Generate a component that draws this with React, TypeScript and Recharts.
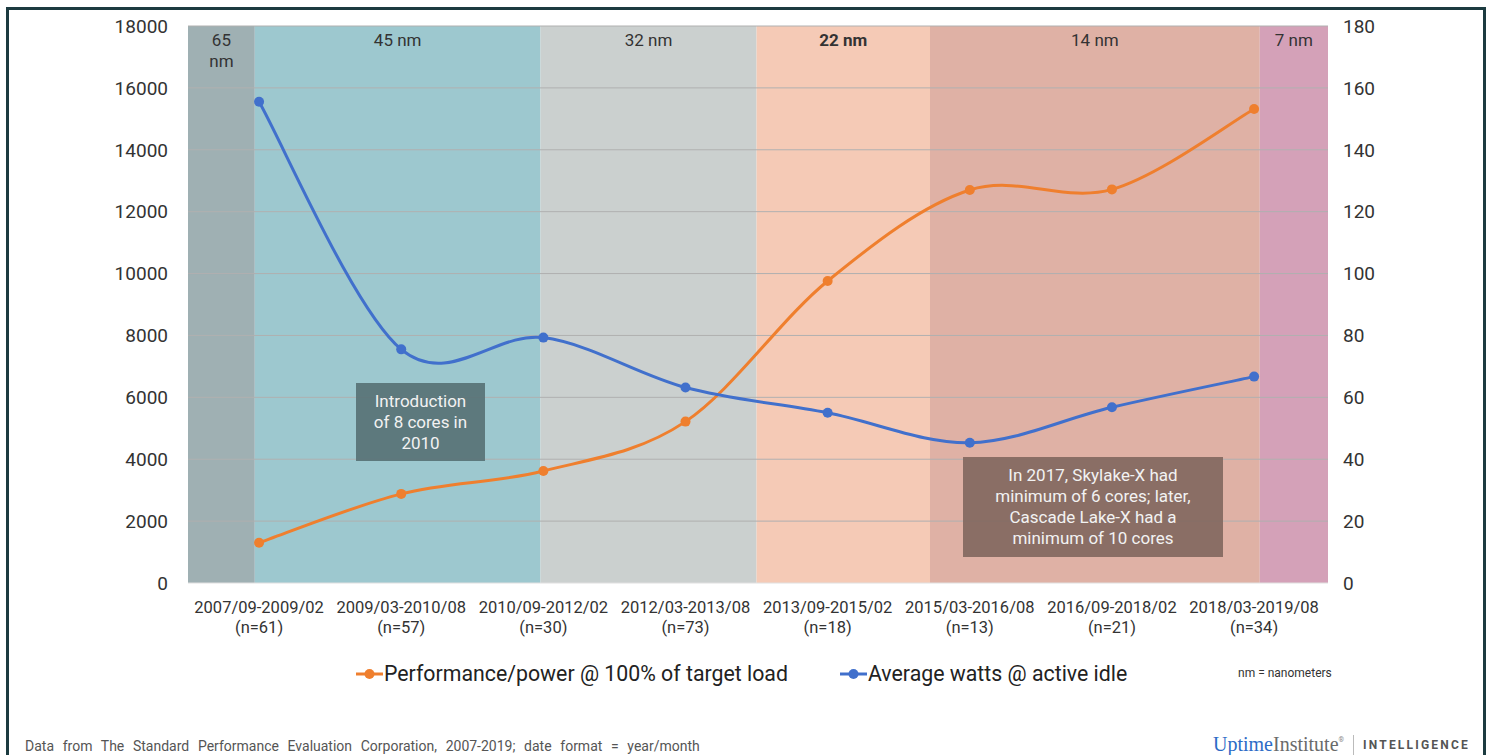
import React from "react";
import {
  Line,
  LineChart,
  ReferenceArea,
  ReferenceLine,
  XAxis,
  YAxis
} from "recharts";

const periods = [
  "2007/09-2009/02",
  "2009/03-2010/08",
  "2010/09-2012/02",
  "2012/03-2013/08",
  "2013/09-2015/02",
  "2015/03-2016/08",
  "2016/09-2018/02",
  "2018/03-2019/08"
];
const sampleCounts = [61, 57, 30, 73, 18, 13, 21, 34];
const perfPerPower = [1300, 2880, 3620, 5215, 9760, 12700, 12720, 15320];
const idleWatts = [155.5, 75.5, 79.3, 63.2, 55.0, 45.3, 56.8, 66.7];

const leftTicks = [0, 2000, 4000, 6000, 8000, 10000, 12000, 14000, 16000, 18000];
const rightTicks = [0, 20, 40, 60, 80, 100, 120, 140, 160, 180];

// process nodes, from/to in category index units
const nodes = [
  { label: ["65", "nm"], from: -0.5, to: -0.03, color: "#9fb0b3", bold: false },
  { label: ["45 nm"], from: -0.03, to: 1.98, color: "#9dc8cf", bold: false },
  { label: ["32 nm"], from: 1.98, to: 3.5, color: "#cbd0cf", bold: false },
  { label: ["22 nm"], from: 3.5, to: 4.72, color: "#f5cab6", bold: true },
  { label: ["14 nm"], from: 4.72, to: 7.04, color: "#dfb1a5", bold: false },
  { label: ["7 nm"], from: 7.04, to: 7.52, color: "#d4a1b8", bold: false }
];

const series = [
  { key: "perf", name: "Performance/power @ 100% of target load", color: "#ef7f2e", axis: "left" },
  { key: "idle", name: "Average watts @ active idle", color: "#4170cc", axis: "right" }
];

const data = periods.map((p, i) => ({
  idx: i,
  period: p,
  n: sampleCounts[i],
  perf: perfPerPower[i],
  idle: idleWatts[i]
}));

const FONT = "Roboto, 'Noto Sans', sans-serif";

// Excel-like smoothed line (catmull-rom style bezier)
function smoothCurve(context: any) {
  let pts: number[][] = [];
  return {
    areaStart() {},
    areaEnd() {},
    lineStart() {
      pts = [];
    },
    point(x: number, y: number) {
      pts.push([+x, +y]);
    },
    lineEnd() {
      const n = pts.length;
      if (!n) return;
      context.moveTo(pts[0][0], pts[0][1]);
      for (let i = 0; i < n - 1; i++) {
        const p0 = pts[i - 1] || pts[i];
        const p1 = pts[i];
        const p2 = pts[i + 1];
        const p3 = pts[i + 2] || p2;
        context.bezierCurveTo(
          p1[0] + (p2[0] - p0[0]) / 6,
          p1[1] + (p2[1] - p0[1]) / 6,
          p2[0] - (p3[0] - p1[0]) / 6,
          p2[1] - (p3[1] - p1[1]) / 6,
          p2[0],
          p2[1]
        );
      }
    }
  };
}

function bandLabel(lines: string[], bold: boolean) {
  return (props: any) => {
    const vb = props.viewBox || {};
    const cx = vb.x + vb.width / 2;
    return (
      <text
        x={cx}
        y={vb.y + 20}
        textAnchor="middle"
        fill="#333"
        fontSize={17}
        fontWeight={bold ? 700 : 400}
        fontFamily={FONT}
      >
        {lines.map((l, i) => (
          <tspan key={i} x={cx} dy={i === 0 ? 0 : 21}>
            {l}
          </tspan>
        ))}
      </text>
    );
  };
}

function PeriodTick(props: any) {
  const { x, y, payload } = props;
  const i = payload.value;
  return (
    <text x={x} y={y} textAnchor="middle" fill="#333" fontSize={16.5} fontFamily={FONT}>
      <tspan x={x} dy={28}>{periods[i]}</tspan>
      <tspan x={x} dy={20}>{`(n=${sampleCounts[i]})`}</tspan>
    </text>
  );
}

function Note({ left, top, width, height, bg, lines }: any) {
  return (
    <div
      style={{
        position: "absolute",
        left,
        top,
        width,
        height,
        background: bg,
        color: "#f2f2f2",
        fontFamily: FONT,
        fontSize: 17,
        lineHeight: "21px",
        textAlign: "center",
        display: "flex",
        flexDirection: "column",
        justifyContent: "center"
      }}
    >
      {lines.map((l: string) => (
        <div key={l}>{l}</div>
      ))}
    </div>
  );
}

export default function App() {
  return (
    <div
      style={{
        position: "absolute",
        left: 0,
        top: 0,
        width: 1491,
        height: 755,
        overflow: "hidden",
        background: "#fff",
        fontFamily: FONT
      }}
    >
      <div
        style={{
          position: "absolute",
          left: 6,
          top: 7,
          width: 1474,
          height: 800,
          border: "3px solid #1c3b40"
        }}
      />
      <div style={{ position: "absolute", left: 0, top: 0 }}>
        <LineChart
          width={1491}
          height={640}
          data={data}
          margin={{ top: 26, right: 83, left: 100, bottom: 6 }}
        >
          {nodes.map((nd) => (
            <ReferenceArea
              key={nd.label.join(" ")}
              yAxisId="left"
              x1={nd.from}
              x2={nd.to}
              y1={0}
              y2={18000}
              fill={nd.color}
              fillOpacity={1}
              stroke="none"
              ifOverflow="visible"
              label={bandLabel(nd.label, nd.bold)}
            />
          ))}
          {leftTicks.slice(1).map((t) => (
            <ReferenceLine
              key={t}
              yAxisId="left"
              y={t}
              stroke="#b0b0b0"
              strokeWidth={1}
              ifOverflow="visible"
            />
          ))}
          <XAxis
            dataKey="idx"
            type="number"
            domain={[-0.5, 7.52]}
            ticks={[0, 1, 2, 3, 4, 5, 6, 7]}
            allowDataOverflow
            height={51}
            tickLine={false}
            tickSize={0}
            axisLine={{ stroke: "#e0e0e0" }}
            tick={<PeriodTick />}
            interval={0}
          />
          <YAxis
            yAxisId="left"
            width={88}
            domain={[0, 18000]}
            ticks={leftTicks}
            axisLine={false}
            tickLine={false}
            tickSize={0}
            tickMargin={20}
            tick={{ fill: "#333", fontSize: 19, fontFamily: FONT }}
          />
          <YAxis
            yAxisId="right"
            orientation="right"
            width={80}
            domain={[0, 180]}
            ticks={rightTicks}
            axisLine={false}
            tickLine={false}
            tickSize={0}
            tickMargin={15}
            tick={{ fill: "#333", fontSize: 19, fontFamily: FONT, textAnchor: "start" }}
          />
          {series.map((s) => (
            <Line
              key={s.key}
              yAxisId={s.axis}
              dataKey={s.key}
              name={s.name}
              type={smoothCurve as any}
              stroke={s.color}
              strokeWidth={3}
              dot={{ r: 5, fill: s.color, stroke: s.color, strokeWidth: 0 }}
              activeDot={false}
              isAnimationActive={false}
            />
          ))}
        </LineChart>
      </div>

      <Note
        left={356}
        top={383}
        width={129}
        height={78}
        bg="rgba(88,114,118,0.92)"
        lines={["Introduction", "of 8 cores in", "2010"]}
      />
      <Note
        left={963}
        top={457}
        width={260}
        height={100}
        bg="rgba(130,104,96,0.92)"
        lines={[
          "In 2017, Skylake-X had",
          "minimum of 6 cores; later,",
          "Cascade Lake-X had a",
          "minimum of 10 cores"
        ]}
      />

      {/* legend */}
      {series.map((s, i) => (
        <div
          key={s.key}
          style={{
            position: "absolute",
            left: i === 0 ? 356 : 840,
            top: 661,
            display: "flex",
            alignItems: "center",
            fontSize: 21.3,
            color: "#222",
            whiteSpace: "nowrap"
          }}
        >
          <svg width={27} height={14} style={{ marginRight: 1 }}>
            <line x1={0} y1={7} x2={27} y2={7} stroke={s.color} strokeWidth={3} />
            <circle cx={13.5} cy={7} r={5} fill={s.color} />
          </svg>
          {s.name}
        </div>
      ))}
      <div
        style={{
          position: "absolute",
          left: 1238,
          top: 666,
          fontSize: 12,
          color: "#333"
        }}
      >
        nm = nanometers
      </div>

      {/* footer */}
      <div
        style={{
          position: "absolute",
          left: 25,
          top: 738,
          fontSize: 14,
          color: "#555",
          wordSpacing: 5.2,
          whiteSpace: "nowrap"
        }}
      >
        Data from The Standard Performance Evaluation Corporation, 2007-2019; date format = year/month
      </div>
      <div
        style={{
          position: "absolute",
          left: 1213,
          top: 733,
          display: "flex",
          alignItems: "center",
          whiteSpace: "nowrap"
        }}
      >
        <span style={{ fontFamily: "'Liberation Serif', serif", fontSize: 20, color: "#2c6bc6" }}>Uptime</span>
        <span style={{ fontFamily: "'Liberation Serif', serif", fontSize: 20, color: "#6a6a6a" }}>Institute</span>
        <span style={{ fontSize: 7, color: "#888", verticalAlign: "top", marginTop: -10 }}>®</span>
        <span style={{ width: 1, height: 20, background: "#bbb", margin: "0 9px" }} />
        <span style={{ fontSize: 12, fontWeight: 700, letterSpacing: 2.2, color: "#555" }}>INTELLIGENCE</span>
      </div>
    </div>
  );
}
